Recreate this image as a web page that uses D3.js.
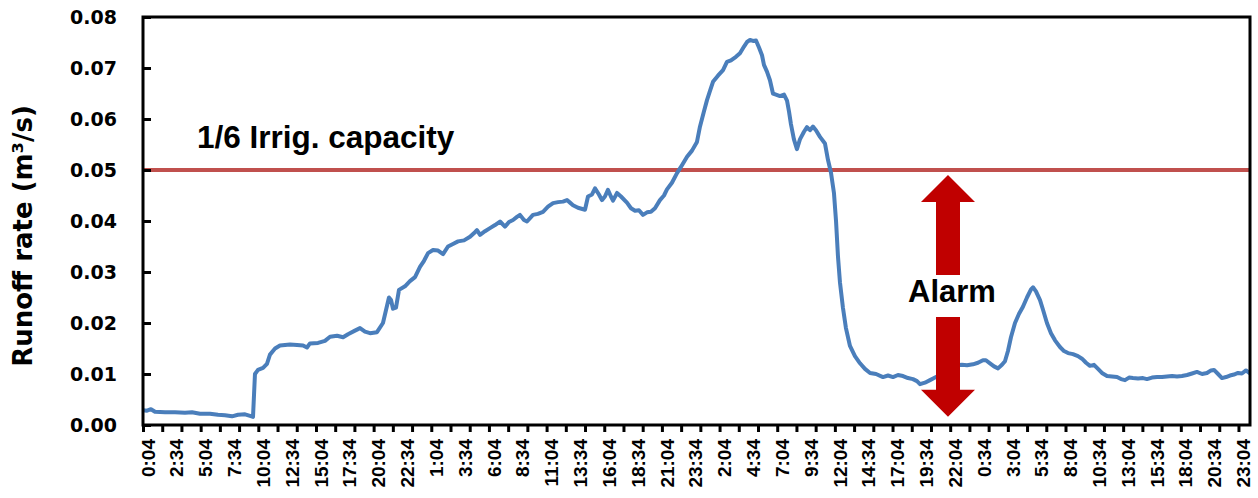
<!DOCTYPE html>
<html>
<head>
<meta charset="utf-8">
<script src="https://cdn.jsdelivr.net/npm/d3@7"></script>
<style>
  body { margin: 0; background: #fff; }
  svg { display: block; }
</style>
</head>
<body>
<script>

// elapsed hours since the first sample (0:04 of day 1)
var hours = [
  0, 0.35, 0.69, 1.04, 1.91, 2.78, 3.64, 4.25, 4.94, 5.81, 6.50, 7.11, 7.72, 8.24, 8.85, 9.28, 9.54,
  9.71, 9.97, 10.41, 10.75, 11.01, 11.45, 11.88, 12.75, 13.36, 13.88, 14.22, 14.48, 15.18, 15.78,
  16.22, 16.83, 17.35, 17.78, 18.38, 18.82, 19.25, 19.69, 20.29, 20.81, 21.07, 21.33, 21.51, 21.68,
  21.94, 22.20, 22.72, 23.15, 23.59, 24.02, 24.37, 24.72, 25.15, 25.59, 26.02, 26.45, 26.88, 27.32,
  27.84, 28.36, 28.79, 28.96, 29.23, 29.66, 30.09, 30.53, 30.96, 31.39, 31.74, 32.09, 32.43, 32.69,
  33.04, 33.30, 33.82, 34.25, 34.69, 35.12, 35.56, 35.99, 36.42, 36.77, 37.03, 37.29, 37.72, 38.33,
  38.59, 38.94, 39.20, 39.54, 39.80, 40.06, 40.32, 40.58, 40.76, 41.11, 41.45, 41.97, 42.32, 42.67,
  43.01, 43.36, 43.71, 44.05, 44.40, 44.83, 45.18, 45.44, 45.87, 46.31, 46.65, 47.18, 47.61, 48.04,
  48.30, 48.65, 48.91, 49.17, 49.43, 49.86, 50.30, 50.64, 50.99, 51.42, 51.77, 52.12, 52.38, 52.64,
  52.90, 53.16, 53.42, 53.68, 53.85, 54.11, 54.37, 54.63, 54.89, 55.24, 55.59, 55.85, 56.02, 56.19,
  56.45, 56.71, 56.97, 57.32, 57.58, 57.84, 58.10, 58.36, 58.71, 59.14, 59.40, 59.66, 59.92, 60.10,
  60.27, 60.44, 60.70, 60.96, 61.31, 61.74, 62.18, 62.61, 63.05, 63.57, 64.17, 64.61, 65.04, 65.47,
  65.91, 66.34, 66.77, 67.12, 67.38, 67.81, 68.25, 68.60, 68.94, 69.38, 69.72, 70.16, 70.59, 71.02,
  71.46, 71.98, 72.41, 72.84, 73.10, 73.45, 73.80, 74.15, 74.49, 74.75, 75.01, 75.27, 75.62, 75.97,
  76.31, 76.66, 77.01, 77.18, 77.44, 77.79, 78.05, 78.39, 78.74, 79.09, 79.52, 79.87, 80.22, 80.65,
  81.08, 81.43, 81.78, 82.12, 82.47, 82.82, 83.16, 83.60, 84.03, 84.47, 84.81, 85.16, 85.51, 85.85,
  86.29, 86.72, 87.07, 87.50, 87.94, 88.37, 88.80, 89.24, 89.67, 90.10, 90.54, 90.97, 91.40, 91.84,
  92.27, 92.62, 92.88, 93.23, 93.57, 93.92, 94.26, 94.61, 94.96, 95.30, 95.65, 96.00
];

// runoff rate (m3/s)
var runoff = [
  0.0029, 0.0028, 0.0031, 0.0026, 0.0025, 0.0025, 0.0024, 0.0025, 0.0022, 0.0022, 0.0020, 0.0019, 0.0017, 0.0020, 0.0021, 0.0018, 0.0016,
  0.0100, 0.0108, 0.0112, 0.0120, 0.0138, 0.0150, 0.0156, 0.0158, 0.0157, 0.0156, 0.0152, 0.0160, 0.0161, 0.0165,
  0.0173, 0.0175, 0.0172, 0.0178, 0.0185, 0.0190, 0.0183, 0.0180, 0.0182, 0.0200, 0.0225, 0.0250, 0.0245, 0.0228,
  0.0230, 0.0265, 0.0272, 0.0282, 0.0290, 0.0310, 0.0322, 0.0337, 0.0343, 0.0342, 0.0335, 0.0350, 0.0355, 0.0360,
  0.0362, 0.0369, 0.0378, 0.0382, 0.0373, 0.0380, 0.0386, 0.0392, 0.0399, 0.0389, 0.0398, 0.0402, 0.0408, 0.0412,
  0.0402, 0.0399, 0.0412, 0.0414, 0.0418, 0.0428, 0.0435, 0.0437, 0.0438, 0.0441, 0.0436, 0.0431, 0.0426, 0.0422,
  0.0448, 0.0452, 0.0464, 0.0452, 0.0441, 0.0448, 0.0461, 0.0448, 0.0440, 0.0455, 0.0448, 0.0436, 0.0425, 0.0420,
  0.0421, 0.0412, 0.0417, 0.0418, 0.0425, 0.0441, 0.0450, 0.0462, 0.0475, 0.0494, 0.0506, 0.0526, 0.0538, 0.0555,
  0.0585, 0.0615, 0.0637, 0.0655, 0.0673, 0.0685, 0.0696, 0.0712, 0.0715, 0.0722, 0.0729, 0.0742, 0.0751, 0.0755,
  0.0753, 0.0754, 0.0740, 0.0725, 0.0706, 0.0693, 0.0676, 0.0650, 0.0648, 0.0645, 0.0648, 0.0636, 0.0615, 0.0590,
  0.0560, 0.0541, 0.0560, 0.0575, 0.0584, 0.0578, 0.0585, 0.0578, 0.0565, 0.0552, 0.0520, 0.0495, 0.0455, 0.0400,
  0.0330, 0.0280, 0.0230, 0.0190, 0.0155, 0.0135, 0.0121, 0.0110, 0.0102, 0.0100, 0.0094, 0.0097, 0.0094, 0.0098,
  0.0096, 0.0092, 0.0090, 0.0086, 0.0080, 0.0083, 0.0088, 0.0092, 0.0096, 0.0102, 0.0108, 0.0114, 0.0117, 0.0118,
  0.0117, 0.0119, 0.0122, 0.0127, 0.0127, 0.0121, 0.0115, 0.0111, 0.0118, 0.0125, 0.0145, 0.0172, 0.0200, 0.0218,
  0.0232, 0.0250, 0.0266, 0.0270, 0.0262, 0.0245, 0.0226, 0.0200, 0.0180, 0.0166, 0.0153, 0.0145, 0.0141, 0.0139,
  0.0135, 0.0130, 0.0122, 0.0116, 0.0118, 0.0110, 0.0102, 0.0096, 0.0095, 0.0094, 0.0090, 0.0088, 0.0093, 0.0092,
  0.0091, 0.0092, 0.0090, 0.0093, 0.0094, 0.0094, 0.0095, 0.0096, 0.0095, 0.0096, 0.0098, 0.0101, 0.0104, 0.0100,
  0.0102, 0.0107, 0.0108, 0.0100, 0.0092, 0.0094, 0.0097, 0.0099, 0.0102, 0.0101, 0.0107, 0.0101
];

// category labels, one every 2.5 h
var timeLabels = [
  "0:04", "2:34", "5:04", "7:34", "10:04", "12:34", "15:04", "17:34", "20:04", "22:34",
  "1:04", "3:34", "6:04", "8:34", "11:04", "13:34", "16:04", "18:34", "21:04", "23:34",
  "2:04", "4:34", "7:04", "9:34", "12:04", "14:34", "17:04", "19:34", "22:04", "0:34",
  "3:04", "5:34", "8:04", "10:34", "13:04", "15:34", "18:04", "20:34", "23:04"
];
var labelHours = timeLabels.map(function(d, i) { return i * 2.5; });
var tickHours = d3.range(0, 96, 100 / 60);   // tick mark every 100 min

var yTicks = [0, 0.01, 0.02, 0.03, 0.04, 0.05, 0.06, 0.07, 0.08];
var capacity = 0.05;          // 1/6 irrigation capacity
var alarm = { hour: 69.81, top: 0.049, bottom: 0.0016, gapTop: 0.0294, gapBottom: 0.0212 };

var dim = { width: 1258, height: 498, left: 143, right: 1250, top: 17, bottom: 425 };

var x = d3.scaleLinear().domain([0, 96]).range([dim.left, dim.right]);
var y = d3.scaleLinear().domain([0, 0.08]).range([dim.bottom, dim.top]);

var svg = d3.select("body").append("svg")
    .attr("width", dim.width)
    .attr("height", dim.height);

// threshold line
svg.append("line")
    .attr("x1", dim.left).attr("x2", dim.right)
    .attr("y1", y(capacity)).attr("y2", y(capacity))
    .attr("stroke", "#c0504d")
    .attr("stroke-width", 4);

// runoff series
var series = hours.map(function(h, i) { return { h: h, v: runoff[i] }; });
var line = d3.line()
    .x(function(d) { return x(d.h); })
    .y(function(d) { return y(d.v); });

svg.append("path")
    .datum(series)
    .attr("fill", "none")
    .attr("stroke", "#4a7ebb")
    .attr("stroke-width", 4)
    .attr("stroke-linejoin", "round")
    .attr("d", line);

// alarm double arrow
var ax = x(alarm.hour), head = 27, shaft = 12, headLen = 27;
function arrow(tipY, baseY, dir) {
    // dir = +1 points up, -1 points down
    var hb = tipY + dir * headLen;
    return "M" + ax + "," + tipY +
        "L" + (ax + head) + "," + hb +
        "L" + (ax + shaft) + "," + hb +
        "L" + (ax + shaft) + "," + baseY +
        "L" + (ax - shaft) + "," + baseY +
        "L" + (ax - shaft) + "," + hb +
        "L" + (ax - head) + "," + hb + "Z";
}
svg.append("path")
    .attr("d", arrow(y(alarm.top), y(alarm.gapTop), 1))
    .attr("fill", "#c00000");
svg.append("path")
    .attr("d", arrow(y(alarm.bottom), y(alarm.gapBottom), -1))
    .attr("fill", "#c00000");

svg.append("text")
    .attr("x", ax + 4)
    .attr("y", 302)
    .attr("text-anchor", "middle")
    .style("font", "bold 31px 'Liberation Sans', Arial, sans-serif")
    .text("Alarm");

svg.append("text")
    .attr("x", 197)
    .attr("y", 148)
    .style("font", "bold 31.5px 'Liberation Sans', Arial, sans-serif")
    .text("1/6 Irrig. capacity");

// frame
svg.append("rect")
    .attr("x", dim.left).attr("y", dim.top)
    .attr("width", dim.right - dim.left)
    .attr("height", dim.bottom - dim.top)
    .attr("fill", "none")
    .attr("stroke", "#000")
    .attr("stroke-width", 3);

// y axis, ticks pointing inside
var yAxis = d3.axisLeft(y)
    .tickValues(yTicks)
    .tickSize(-8)
    .tickPadding(26)
    .tickFormat(d3.format(".2f"));

var gy = svg.append("g")
    .attr("transform", "translate(" + dim.left + ",0)")
    .call(yAxis);
gy.select(".domain").remove();
gy.selectAll(".tick line").attr("stroke", "#000").attr("stroke-width", 3);
gy.selectAll(".tick text")
    .attr("fill", "#000")
    .style("font", "bold 19px 'DejaVu Sans', sans-serif");

// x axis, tick marks only
var xAxis = d3.axisBottom(x)
    .tickValues(tickHours)
    .tickSize(7)
    .tickFormat("");

var gx = svg.append("g")
    .attr("transform", "translate(0," + dim.bottom + ")")
    .call(xAxis);
gx.select(".domain").remove();
gx.selectAll(".tick line").attr("stroke", "#000").attr("stroke-width", 3);

svg.append("g").selectAll("text")
    .data(timeLabels)
    .enter().append("text")
    .attr("transform", function(d, i) {
        return "translate(" + (x(labelHours[i]) + 5) + ",439) rotate(-90)";
    })
    .attr("dy", "0.35em")
    .attr("text-anchor", "end")
    .style("font", "bold 19px 'Liberation Sans', Arial, sans-serif")
    .text(function(d) { return d; });

// y title
svg.append("text")
    .attr("transform", "translate(32,236) rotate(-90)")
    .attr("text-anchor", "middle")
    .style("font", "bold 26px 'DejaVu Sans', sans-serif")
    .text("Runoff rate (m³/s)");

</script>
</body>
</html>
